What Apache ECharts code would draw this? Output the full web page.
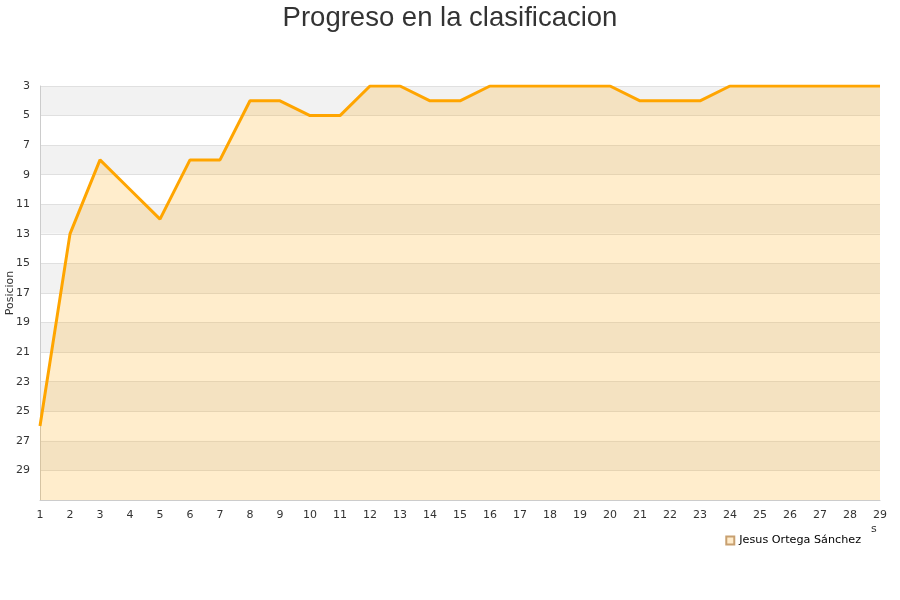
<!DOCTYPE html>
<html><head><meta charset="utf-8">
<script src="https://cdn.jsdelivr.net/npm/echarts@6/dist/echarts.min.js"></script>
<style>html,body{margin:0;padding:0;background:#fff}#c{width:900px;height:600px}</style>
</head><body><div id="c"></div>
<script>
const jornadas = [1,2,3,4,5,6,7,8,9,10,11,12,13,14,15,16,17,18,19,20,21,22,23,24,25,26,27,28,29];
const posiciones = [26,13,8,10,12,8,8,4,4,5,5,3,3,4,4,3,3,3,3,3,4,4,4,3,3,3,3,3,3];
const yTicks = [3,5,7,9,11,13,15,17,19,21,23,25,27,29,31];
const yLabels = [3,5,7,9,11,13,15,17,19,21,23,25,27,29];
const seriesName = 'Jesus Ortega Sánchez';
const yName = 'Posicion';

const chart = echarts.init(document.getElementById('c'), null, {renderer:'canvas'});
chart.setOption({
  animation:false,
  title:{text:'Progreso en la clasificacion', left:'center', top:-1,
    textStyle:{fontFamily:'Liberation Sans', fontSize:27.5, fontWeight:'normal', color:'#333'}},
  legend:{data:[{name:seriesName, icon:'rect'}], right:34, bottom:49, itemWidth:8, itemHeight:8,
    textStyle:{fontFamily:'DejaVu Sans', fontSize:11.2, color:'#000'}},
  grid:{left:40, right:20, top:86, bottom:100, containLabel:false, outerBoundsMode:'none'},
  xAxis:{type:'category', data:jornadas, boundaryGap:false,
    axisLine:{lineStyle:{color:'#ccc'}}, axisTick:{show:false},
    axisLabel:{fontFamily:'DejaVu Sans', fontSize:11, color:'#333', margin:10},
    splitLine:{show:false}},
  yAxis:{type:'value', inverse:true, min:3, max:31,
    axisLine:{show:true, lineStyle:{color:'#ccc'}}, axisTick:{show:false, customValues:yTicks},
    axisLabel:{customValues:yLabels, fontFamily:'DejaVu Sans', fontSize:11, color:'#333', margin:10},
    splitLine:{show:true, lineStyle:{color:'#e0e0e0'}},
    splitArea:{show:true, areaStyle:{color:['#f2f2f2','#ffffff']}}},
  series:[{name:seriesName, type:'line', data:posiciones, showSymbol:false, symbol:'none',
    lineStyle:{color:'#ffa500', width:3}, itemStyle:{color:'#ffeccc', borderColor:'#c8a070', borderWidth:1},
    areaStyle:{color:'rgba(255,165,0,0.2)', opacity:1, origin:'end'}}],
  graphic:[
    {type:'text', x:10, y:293, rotation:Math.PI/2,
      style:{text:yName, fontFamily:'DejaVu Sans', fontSize:11, fill:'#333', align:'center', verticalAlign:'middle'}},
    {type:'text', left:871, top:524, style:{text:'s', fontFamily:'DejaVu Sans', fontSize:11, fill:'#333'}}]
});
</script></body></html>
